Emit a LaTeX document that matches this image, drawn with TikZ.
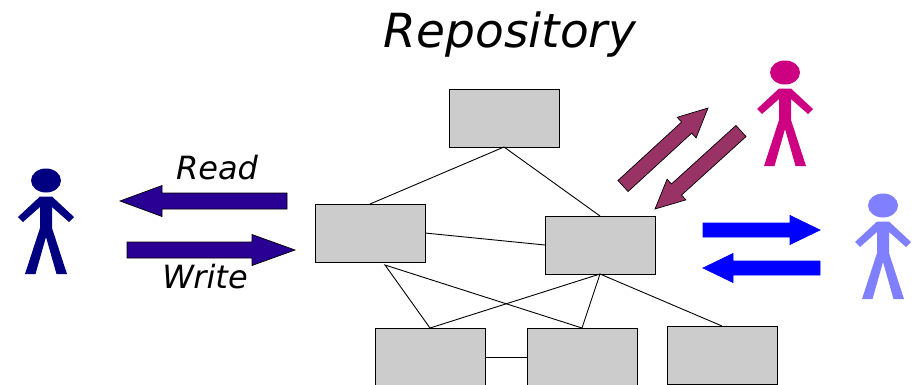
\documentclass[tikz,border=0pt]{standalone}
\usepackage{fontspec}
\setmainfont{DejaVu Sans}
\definecolor{boxgrey}{HTML}{CCCCCC}
\definecolor{readblue}{HTML}{2A0094}
\definecolor{maroonish}{HTML}{993366}
\definecolor{navyfig}{HTML}{000080}
\definecolor{magentafig}{HTML}{CC0080}
\definecolor{lilacfig}{HTML}{8080FF}
\tikzset{
  repobox/.style={draw=black,fill=boxgrey,line width=0.9pt,minimum width=110pt,minimum height=58pt,inner sep=0pt,outer sep=0pt},
  link/.style={draw=black,line width=0.9pt},
  label/.style={inner sep=0pt},
  pics/person/.style={code={
    \fill[#1] (0,-0.5) ellipse [x radius=15pt,y radius=12pt];
    \fill[#1] (-6,15.5)--(6,15.5)--(28,36)--(23,41)--(6,26)--(6,47)--(21,93)--(10.5,93)--(0,56)--(-10.5,93)--(-21,93)--(-6,47)--(-6,26)--(-23,41)--(-28,36)--cycle;
  }},
}
% tail x, tail y, tip x, tip y, shaft half-width, head half-width, head length, fill, outline
\newcommand\blockarrow[9]{%
  \pgfmathsetmacro\arrlen{veclen(#3-#1,#4-#2)}%
  \pgfmathsetmacro\arrang{atan2(#2-#4,#3-#1)}%
  \pgfmathsetmacro\arrbase{\arrlen-#7}%
  \begin{scope}[shift={(#1,#2)},rotate=\arrang]
    \path[draw=#9,fill=#8,line width=0.7pt,miter limit=10]
    (0,-#5)--(\arrbase,-#5)--(\arrbase,-#6)--(\arrlen,0)--(\arrbase,#6)--(\arrbase,#5)--(0,#5)--cycle;
  \end{scope}%
}
\begin{document}
\begin{tikzpicture}[x=1pt,y=-1pt]
\useasboundingbox (0,0) rectangle (917,384);
\node[label,font=\itshape\fontsize{47}{47}\selectfont] (title) at (510,34.5) {Repository};
\node[label,font=\itshape\fontsize{32}{32}\selectfont] (read) at (217,168) {Read};
\node[label,font=\itshape\fontsize{32}{32}\selectfont] (write) at (205,277) {Write};
\node[repobox] (top) at (504,118) {};
\node[repobox] (left) at (370,233) {};
\node[repobox] (mid) at (600,245) {};
\node[repobox] (bota) at (430,357) {};
\node[repobox] (botb) at (582,357) {};
\node[repobox] (botc) at (722,355) {};
\coordinate (under) at (385,265);
\draw[link] (top.south)--(left.north);
\draw[link] (top.south)--(mid.north);
\draw[link] (left.east)--(mid.west);
\draw[link] (bota.north)--(under)--(botb.north);
\draw[link] (mid.south)--(bota.north);
\draw[link] (mid.south)--(botb.north);
\draw[link] (mid.south)--(botc.north);
\draw[link] (bota.east)--(botb.west);
\pic at (46,181) {person=navyfig};
\pic at (785,73) {person=magentafig};
\pic at (883,206) {person=lilacfig};
\blockarrow{287}{201}{120}{201}{8}{15.5}{42}{readblue}{black}
\blockarrow{127}{250}{295}{250}{8}{15.5}{43}{readblue}{black}
\blockarrow{623}{186}{708}{108}{7.5}{14}{29}{maroonish}{black}
\blockarrow{741}{131}{655}{209}{7.5}{14}{29}{maroonish}{black}
\blockarrow{703}{230}{820}{230}{7}{14.5}{30}{blue}{blue}
\blockarrow{820}{268}{703}{268}{7}{14.5}{30}{blue}{blue}
\end{tikzpicture}
\end{document}
